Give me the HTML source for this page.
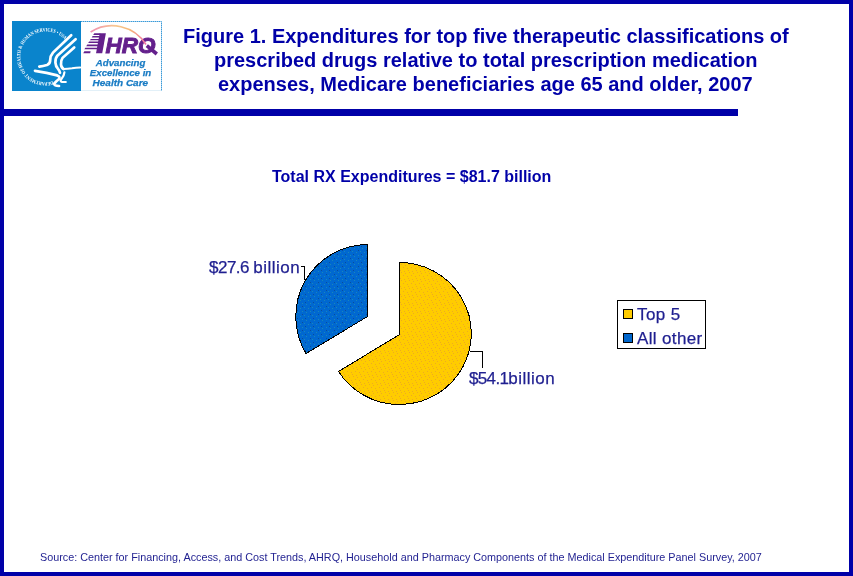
<!DOCTYPE html>
<html><head><meta charset="utf-8">
<style>
html,body{margin:0;padding:0;background:#fff;}
body{-webkit-font-smoothing:antialiased;width:853px;height:576px;position:relative;overflow:hidden;font-family:"Liberation Sans",sans-serif;}
.abs{position:absolute;white-space:pre;will-change:transform;}
#frame{position:absolute;left:0;top:0;width:845px;height:568px;border:4px solid #0000a8;}
#rule{position:absolute;left:0;top:109px;width:738px;height:7px;background:#0000a8;}
.title{font-weight:bold;font-size:20px;color:#0000a8;line-height:20px;}
.sub{font-weight:bold;font-size:16px;color:#0000a8;left:272px;top:168.5px;line-height:16px;}
.lbl{font-size:17px;color:#1f1f90;line-height:17px;-webkit-text-stroke:0.25px #1f1f90;}
.src{font-size:10.8px;color:#1f1f90;left:40px;top:551.5px;line-height:10.8px;}
#legend{position:absolute;left:617px;top:300px;width:87px;height:47px;border:1px solid #000;}
.sw{position:absolute;width:8px;height:8px;border:1px solid #000;}
</style></head>
<body>
<div id="frame"></div>
<div id="rule"></div>

<!-- logo -->
<svg class="abs" style="left:0;top:0" width="170" height="100" viewBox="0 0 170 100">
  <defs>
    <linearGradient id="arcg" x1="90" y1="0" x2="147" y2="0" gradientUnits="userSpaceOnUse">
      <stop offset="0" stop-color="#f08cb4"/>
      <stop offset="0.45" stop-color="#f8c890"/>
      <stop offset="0.7" stop-color="#f6b878"/>
      <stop offset="1" stop-color="#f06aa8"/>
    </linearGradient>
    <path id="ring" d="M52.8,81.3 A25.5,25.5 0 1,1 64.55,39.5"/>
  </defs>
  <rect x="12" y="21" width="69" height="70" fill="#0a84cc"/>
  <rect x="81" y="21" width="81" height="70" fill="#fff"/>
  <path d="M81,21.5 H161.5 V91" fill="none" stroke="#3a9ad8" stroke-width="1" stroke-dasharray="1.5,0.5"/>
  <path d="M81,90.5 H161" fill="none" stroke="#e2f0f8" stroke-width="1"/>
  <text font-family="Liberation Serif" font-size="5" fill="#fff" font-weight="bold">
    <textPath href="#ring" textLength="108" lengthAdjust="spacingAndGlyphs">DEPARTMENT OF HEALTH &amp; HUMAN SERVICES &#8226; USA</textPath>
  </text>
  <g fill="none" stroke="#fff" stroke-linecap="round" stroke-width="2.7">
    <path d="M71.2,35.2 L53,52.6 Q50.2,55.8 50.2,60 Q50.3,63.8 47,65 Q43,66 39.3,66.6"/>
    <path d="M75.6,39.2 L57.6,55.4 Q55.2,58.2 55.4,62.5 Q55.8,66.8 57.8,68.6 Q59.6,70.6 60,72.8"/>
    <path d="M74.2,47.4 L62.6,57.8 Q60.8,60.2 61,64.5 Q61.4,68 63.6,69"/>
    <path d="M35,70.8 Q47,72.4 57.2,75.4 Q60.6,76.8 59,79 Q55.6,81.8 54.2,83.6 Q54,86 59,86"/>
    <path d="M63.4,69 Q68,68.6 72,68.2 Q76,67.6 80.2,67.6" stroke-width="2"/>
    <path d="M64.4,72.4 Q64,76.4 61.6,78.8 Q59.4,81.2 62,82 L65.8,82" stroke-width="2.2"/>
  </g>
    <g fill="#64208c">
    <polygon points="94.3,33.2 100.4,33.2 100.1,34.9 93.2,34.9"/>
    <polygon points="92.6,35.9 99.9,35.9 99.6,37.4 91.7,37.4"/>
    <polygon points="90.8,38.9 99.4,38.9 99.1,40.3 89.9,40.3"/>
    <polygon points="89.1,41.6 98.9,41.6 98.6,43.0 88.2,43.0"/>
    <polygon points="87.3,44.5 98.3,44.5 98.0,46.3 86.2,46.3"/>
    <polygon points="85.3,47.7 97.7,47.7 97.5,49.2 84.4,49.2"/>
    <polygon points="84.4,51.2 90.6,51.2 90.2,53.3 83.2,53.3"/>
    <polygon points="99.7,33.2 105.9,33.2 102.2,53.3 96,53.3"/>
  </g>
  <text x="105.5" y="53.3" font-family="Liberation Sans" font-weight="bold" font-style="italic" font-size="21.5" fill="#64208c" stroke="#64208c" stroke-width="0.9" textLength="50" lengthAdjust="spacingAndGlyphs">HRO</text>
  <path d="M146.8,45.6 L156.8,54" stroke="#64208c" stroke-width="3.6"/>
  <path d="M90.6,32 A40,40 0 0,1 146,44.5" fill="none" stroke="url(#arcg)" stroke-width="1.6"/>
  <g font-family="Liberation Sans" font-weight="bold" font-style="italic" font-size="9.2" fill="#1a7cc4" stroke="#1a7cc4" stroke-width="0.25">
    <text x="95.8" y="66.1" textLength="49.5" lengthAdjust="spacingAndGlyphs">Advancing</text>
    <text x="89.8" y="76" textLength="61.5" lengthAdjust="spacingAndGlyphs">Excellence in</text>
    <text x="92.6" y="85.7" textLength="55.5" lengthAdjust="spacingAndGlyphs">Health Care</text>
  </g>
</svg>

<div class="abs title" style="left:183px;top:26px">Figure 1. Expenditures for top five therapeutic classifications of</div>
<div class="abs title" style="left:214px;top:50px">prescribed drugs relative to total prescription medication</div>
<div class="abs title" style="left:218px;top:74px">expenses, Medicare beneficiaries age 65 and older, 2007</div>

<div class="abs sub">Total RX Expenditures = $81.7 billion</div>

<!-- pie -->
<svg class="abs" style="left:0;top:0" width="853" height="576" shape-rendering="crispEdges">
  <defs>
    <pattern id="py" x="0" y="0" width="8" height="8" patternUnits="userSpaceOnUse">
      <rect width="8" height="8" fill="#ffcc00"/>
      <rect x="1" y="0" width="1" height="1" fill="#eeaa22"/>
      <rect x="5" y="1" width="1" height="1" fill="#eeaa22"/>
      <rect x="3" y="3" width="1" height="1" fill="#eeaa22"/>
      <rect x="7" y="4" width="1" height="1" fill="#eeaa22"/>
      <rect x="0" y="6" width="1" height="1" fill="#eeaa22"/>
      <rect x="4" y="7" width="1" height="1" fill="#eeaa22"/>
    </pattern>
    <pattern id="pb" x="0" y="0" width="8" height="8" patternUnits="userSpaceOnUse">
      <rect width="8" height="8" fill="#0068d0"/>
      <rect x="2" y="0" width="1" height="1" fill="#1a88b8"/>
      <rect x="6" y="2" width="1" height="1" fill="#0a4c9a"/>
      <rect x="0" y="3" width="1" height="1" fill="#1a88b8"/>
      <rect x="4" y="4" width="1" height="1" fill="#1a88b8"/>
      <rect x="1" y="6" width="1" height="1" fill="#0a4c9a"/>
      <rect x="6" y="7" width="1" height="1" fill="#1a88b8"/>
    </pattern>
  </defs>
    <path d="M399.5,334.5 L399.5,262.5 A72,71 0 1,1 338.5,371.5 Z" fill="url(#py)" stroke="#000" stroke-width="1"/>
  <path d="M367.5,316.5 L306,353.5 A72,72 0 0,1 367.5,244.5 Z" fill="url(#pb)" stroke="#000" stroke-width="1"/>
  <path d="M301,266.5 H304.5 V280" fill="none" stroke="#000" stroke-width="1"/>
  <path d="M470,351.5 H482.5 V368" fill="none" stroke="#000" stroke-width="1"/>
</svg>

<div class="abs lbl" style="left:209px;top:258.6px"><span style="letter-spacing:-0.5px">$27.6 </span><span style="letter-spacing:0.5px">billion</span></div>
<div class="abs lbl" style="left:468.8px;top:370.2px"><span style="letter-spacing:-0.65px">$54.1</span><span style="letter-spacing:0.5px">billion</span></div>

<div id="legend">
  <div class="sw" style="left:5px;top:8px;background:#ffcc00"></div>
  <div class="abs lbl" style="left:19px;top:5px;letter-spacing:0.4px">Top 5</div>
  <div class="sw" style="left:5px;top:32px;background:#0066cc"></div>
  <div class="abs lbl" style="left:19px;top:29px;letter-spacing:0.35px">All other</div>
</div>

<div class="abs src">Source: Center for Financing, Access, and Cost Trends, AHRQ, Household and Pharmacy Components of the Medical Expenditure Panel Survey, 2007</div>
</body></html>
